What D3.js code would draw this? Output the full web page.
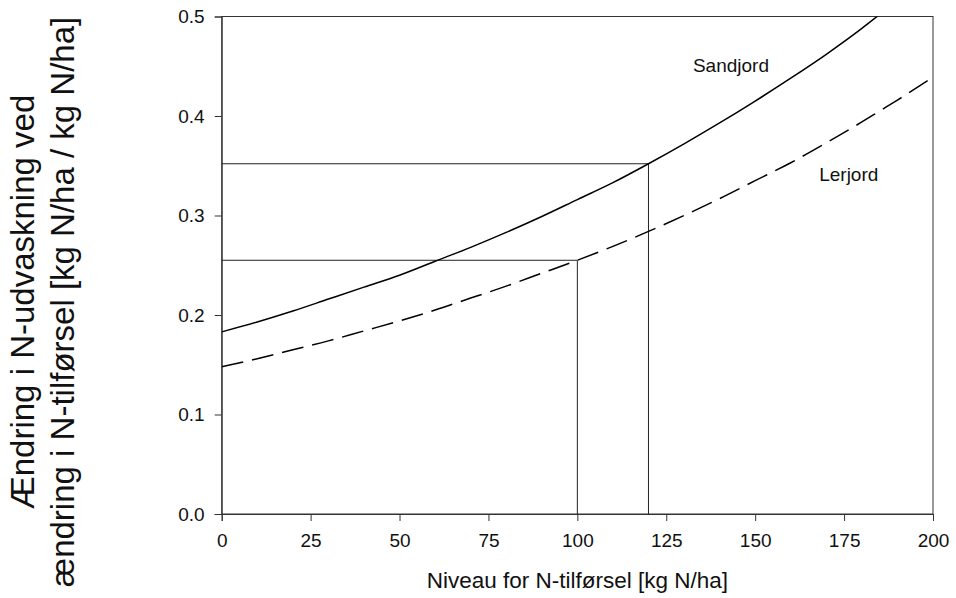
<!DOCTYPE html>
<html><head><meta charset="utf-8">
<script src="https://cdn.jsdelivr.net/npm/d3@7"></script>
<style>body{margin:0;background:#fff}svg{display:block}text{font-family:"Liberation Sans",Arial,sans-serif;fill:#111}</style>
</head><body>
<script>
const xValues = [0,10,20,30,40,50,60,70,80,90,100,110,120,130,140,150,160,170,180,185,190,200];
const sandjord = [0.183,0.193,0.204,0.216,0.228,0.240,0.254,0.268,0.283,0.299,0.316,0.333,0.352,0.372,0.393,0.415,0.438,0.462,0.488,0.502,0.515,0.543];
const lerjord  = [0.148,0.156,0.165,0.174,0.184,0.194,0.205,0.217,0.229,0.242,0.255,0.269,0.284,0.300,0.317,0.335,0.353,0.373,0.394,0.405,0.416,0.439];
const guideX = [100,120];
const guideY = [0.255,0.352];
const xTicks = [0,25,50,75,100,125,150,175,200];
const yTicks = [0.0,0.1,0.2,0.3,0.4,0.5];
const xTitle = "Niveau for N-tilførsel [kg N/ha]";
const yTitle = ["Ændring i N-udvaskning ved","ændring i N-tilførsel [kg N/ha / kg N/ha]"];
const curveLabels = ["Sandjord","Lerjord"];

const W=956,H=598;
const svg=d3.select("body").append("svg").attr("width",W).attr("height",H);
const x=d3.scaleLinear().domain([0,200]).range([221.7,933]);
const y=d3.scaleLinear().domain([0,0.5]).range([514,16.5]);

svg.append("defs").append("clipPath").attr("id","clip").append("rect")
  .attr("x",x(0)).attr("y",y(0.5)).attr("width",x(200)-x(0)).attr("height",y(0)-y(0.5));

// frame
svg.append("rect").attr("x",x(0)).attr("y",y(0.5)).attr("width",x(200)-x(0)).attr("height",y(0)-y(0.5))
  .attr("fill","none").attr("stroke","#333").attr("stroke-width",1);

// axes
const xa=svg.append("g").attr("transform",`translate(0,${y(0)})`)
  .call(d3.axisBottom(x).tickValues(xTicks).tickSize(7).tickPadding(13).tickFormat(d3.format("d")));
const ya=svg.append("g").attr("transform",`translate(${x(0)},0)`)
  .call(d3.axisLeft(y).tickValues(yTicks).tickSize(7).tickPadding(10).tickFormat(d3.format(".1f")));
[xa,ya].forEach(g=>{
  g.select(".domain").attr("stroke","#333");
  g.selectAll(".tick line").attr("stroke","#333");
  g.selectAll(".tick text").attr("font-size",19).attr("font-family","Liberation Sans, Arial, sans-serif").attr("fill","#111");
});

// guide lines
const gl=svg.append("g").attr("stroke","#222").attr("stroke-width",1).attr("fill","none");
guideX.forEach((gx,i)=>{
  gl.append("path").attr("d",`M${x(0)},${y(guideY[i])}H${x(gx)}V${y(0)}`);
});

// curves
const line=d3.line().x((d,i)=>x(xValues[i])).y(d=>y(d)).curve(d3.curveMonotoneX);
const cg=svg.append("g").attr("clip-path","url(#clip)");
cg.append("path").datum(sandjord).attr("d",line).attr("fill","none").attr("stroke","#000").attr("stroke-width",1.5);
cg.append("path").datum(lerjord).attr("d",line).attr("fill","none").attr("stroke","#000").attr("stroke-width",1.5).attr("stroke-dasharray","22,9");

// curve labels
svg.append("text").attr("x",x(132.5)).attr("y",71.7).attr("font-size",19).text(curveLabels[0]);
svg.append("text").attr("x",x(168)).attr("y",180.7).attr("font-size",19).text(curveLabels[1]);

// axis titles
svg.append("text").attr("x",(x(0)+x(200))/2).attr("y",588).attr("text-anchor","middle").attr("font-size",22.5).text(xTitle);
const yt=svg.append("text").attr("transform","translate(34,302) rotate(-90)").attr("text-anchor","middle").attr("font-size",33);
yt.append("tspan").attr("x",0).attr("y",0).text(yTitle[0]);
yt.append("tspan").attr("x",0).attr("y",40).text(yTitle[1]);
</script>
</body></html>
